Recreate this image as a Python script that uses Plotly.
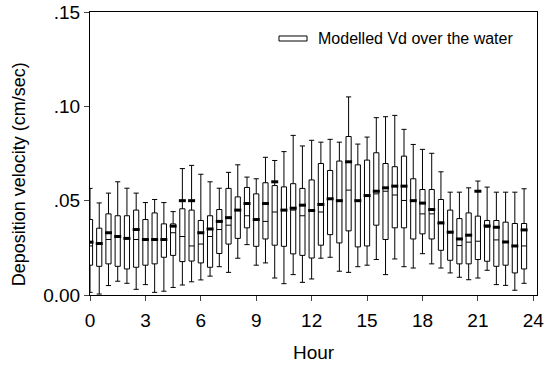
import plotly.graph_objects as go

hours = [0, 0.5, 1, 1.5, 2, 2.5, 3, 3.5, 4, 4.5, 5, 5.5, 6, 6.5, 7, 7.5,
         8, 8.5, 9, 9.5, 10, 10.5, 11, 11.5, 12, 12.5, 13, 13.5, 14, 14.5, 15, 15.5,
         16, 16.5, 17, 17.5, 18, 18.5, 19, 19.5, 20, 20.5, 21, 21.5, 22, 22.5, 23, 23.5]

upper = [0.0565, 0.0488, 0.054, 0.060, 0.0566, 0.054, 0.049, 0.0506, 0.049, 0.0442, 0.067, 0.0687,
         0.064, 0.060, 0.0566, 0.065, 0.069, 0.0625, 0.0616, 0.073, 0.0713, 0.076, 0.0846, 0.079,
         0.082, 0.081, 0.0825, 0.081, 0.105, 0.080, 0.0837, 0.094, 0.0945, 0.0952, 0.0878, 0.0798,
         0.0772, 0.0751, 0.0653, 0.0545, 0.0545, 0.0568, 0.0604, 0.0572, 0.0545, 0.0545, 0.0545, 0.0563]

q3 = [0.040, 0.0354, 0.043, 0.042, 0.042, 0.045, 0.040, 0.0435, 0.0377, 0.0377, 0.0457, 0.045,
      0.0395, 0.042, 0.0453, 0.0565, 0.052, 0.057, 0.0536, 0.0595, 0.058, 0.0573, 0.059, 0.0565,
      0.061, 0.0697, 0.066, 0.071, 0.084, 0.069, 0.0715, 0.0754, 0.0697, 0.068, 0.0736, 0.0616,
      0.0559, 0.0559, 0.0506, 0.045, 0.0405, 0.0435, 0.0418, 0.0395, 0.0395, 0.0386, 0.0379, 0.0379]

median = [0.026, 0.0273, 0.0294, 0.031, 0.030, 0.0294, 0.0294, 0.0294, 0.0294, 0.033, 0.031, 0.026,
          0.027, 0.031, 0.0347, 0.037, 0.045, 0.042, 0.040, 0.039, 0.044, 0.045, 0.045, 0.042,
          0.0448, 0.044, 0.051, 0.050, 0.0556, 0.050, 0.0527, 0.0536, 0.055, 0.053, 0.0501, 0.050,
          0.043, 0.043, 0.0386, 0.033, 0.0262, 0.028, 0.0285, 0.036, 0.0292, 0.028, 0.026, 0.026]

q1 = [0.0158, 0.0152, 0.0165, 0.0152, 0.0138, 0.0147, 0.0158, 0.0165, 0.020, 0.021, 0.0177, 0.018,
      0.017, 0.0147, 0.022, 0.027, 0.030, 0.0356, 0.0258, 0.0297, 0.0264, 0.0258, 0.0218, 0.021,
      0.0196, 0.0264, 0.032, 0.0276, 0.034, 0.0255, 0.026, 0.037, 0.0294, 0.0356, 0.0356, 0.0297,
      0.0324, 0.0297, 0.0237, 0.0184, 0.0165, 0.0165, 0.0188, 0.0179, 0.0152, 0.0158, 0.0117, 0.0138]

lower = [0.0014, 0.0005, 0.005, 0.0073, 0.0062, 0.003, 0.0055, 0.0014, 0.002, 0.004, 0.0053, 0.007,
         0.008, 0.010, 0.015, 0.012, 0.0195, 0.0267, 0.0158, 0.017, 0.009, 0.006, 0.0108, 0.0067,
         0.0085, 0.0195, 0.020, 0.0126, 0.012, 0.015, 0.0158, 0.0188, 0.0108, 0.0191, 0.015, 0.0143,
         0.0219, 0.0165, 0.0143, 0.0117, 0.0094, 0.0081, 0.0090, 0.0131, 0.0055, 0.0051, 0.0025, 0.0062]

mean = [0.028, 0.0273, 0.033, 0.031, 0.030, 0.0347, 0.0294, 0.0294, 0.0294, 0.0365, 0.050, 0.050,
        0.033, 0.035, 0.039, 0.041, 0.045, 0.0485, 0.040, 0.0485, 0.060, 0.045, 0.046, 0.0476,
        0.0448, 0.048, 0.051, 0.050, 0.0706, 0.050, 0.0527, 0.055, 0.0568, 0.0577, 0.0577, 0.050,
        0.0487, 0.0453, 0.0382, 0.0333, 0.0297, 0.0317, 0.0550, 0.0366, 0.0359, 0.0281, 0.0260, 0.0345]

x_ticks = [0, 3, 6, 9, 12, 15, 18, 21, 24]
y_ticks = [0, 0.05, 0.10, 0.15]
y_ticktext = ["0.00", ".05", ".10", ".15"]
legend_label = "Modelled Vd over the water"
x_title = "Hour"
y_title = "Deposition velocity (cm/sec)"

FONT = "Liberation Sans, Arial, sans-serif"

fig = go.Figure()
fig.add_trace(go.Box(
    x=hours, q1=q1, median=median, q3=q3, lowerfence=lower, upperfence=upper,
    name=legend_label, showlegend=False,
    fillcolor="white", line=dict(color="black", width=1),
    width=0.28, whiskerwidth=1, boxpoints=False,
))
fig.add_trace(go.Scatter(
    x=hours, y=mean, mode="markers", showlegend=False,
    marker=dict(symbol="line-ew", size=5, line=dict(color="black", width=3)),
    hoverinfo="skip",
))

# legend key (icon + label)
fig.add_shape(type="rect", xref="paper", yref="paper",
              x0=0.4228, x1=0.4855, y0=0.8975, y1=0.9152,
              line=dict(color="black", width=1), fillcolor="white")
fig.add_annotation(text=legend_label, xref="paper", yref="paper",
                   x=0.505, y=0.9075, xanchor="left", yanchor="middle",
                   showarrow=False, font=dict(size=16))

# axis titles
fig.add_annotation(text=y_title, xref="paper", yref="paper",
                   x=-0.157, y=0.426, xanchor="center", yanchor="middle",
                   textangle=-90, showarrow=False, font=dict(size=18))
fig.add_annotation(text=x_title, xref="paper", yref="paper",
                   x=0.5, y=-0.203, xanchor="center", yanchor="middle",
                   showarrow=False, font=dict(size=19))

fig.update_layout(
    width=545, height=365,
    margin=dict(l=90, r=8, t=12, b=70),
    paper_bgcolor="white", plot_bgcolor="white",
    font=dict(family=FONT, size=19, color="black"),
    showlegend=False,
    xaxis=dict(range=[0, 24.2], tickvals=x_ticks, ticks="outside", ticklen=5,
               ticklabelstandoff=3, ticklabeloverflow="allow", automargin=False,
               showline=True, mirror=True, linecolor="black", linewidth=1,
               showgrid=False, zeroline=False),
    yaxis=dict(range=[0, 0.15], tickvals=y_ticks, ticktext=y_ticktext,
               ticks="outside", ticklen=5, ticklabeloverflow="allow", automargin=False,
               showline=True, mirror=True, linecolor="black", linewidth=1,
               showgrid=False, zeroline=False),
)

fig.write_html("out.html", config={"displayModeBar": False},
               post_script="document.body.style.margin='0px';document.body.style.overflow='hidden';")
